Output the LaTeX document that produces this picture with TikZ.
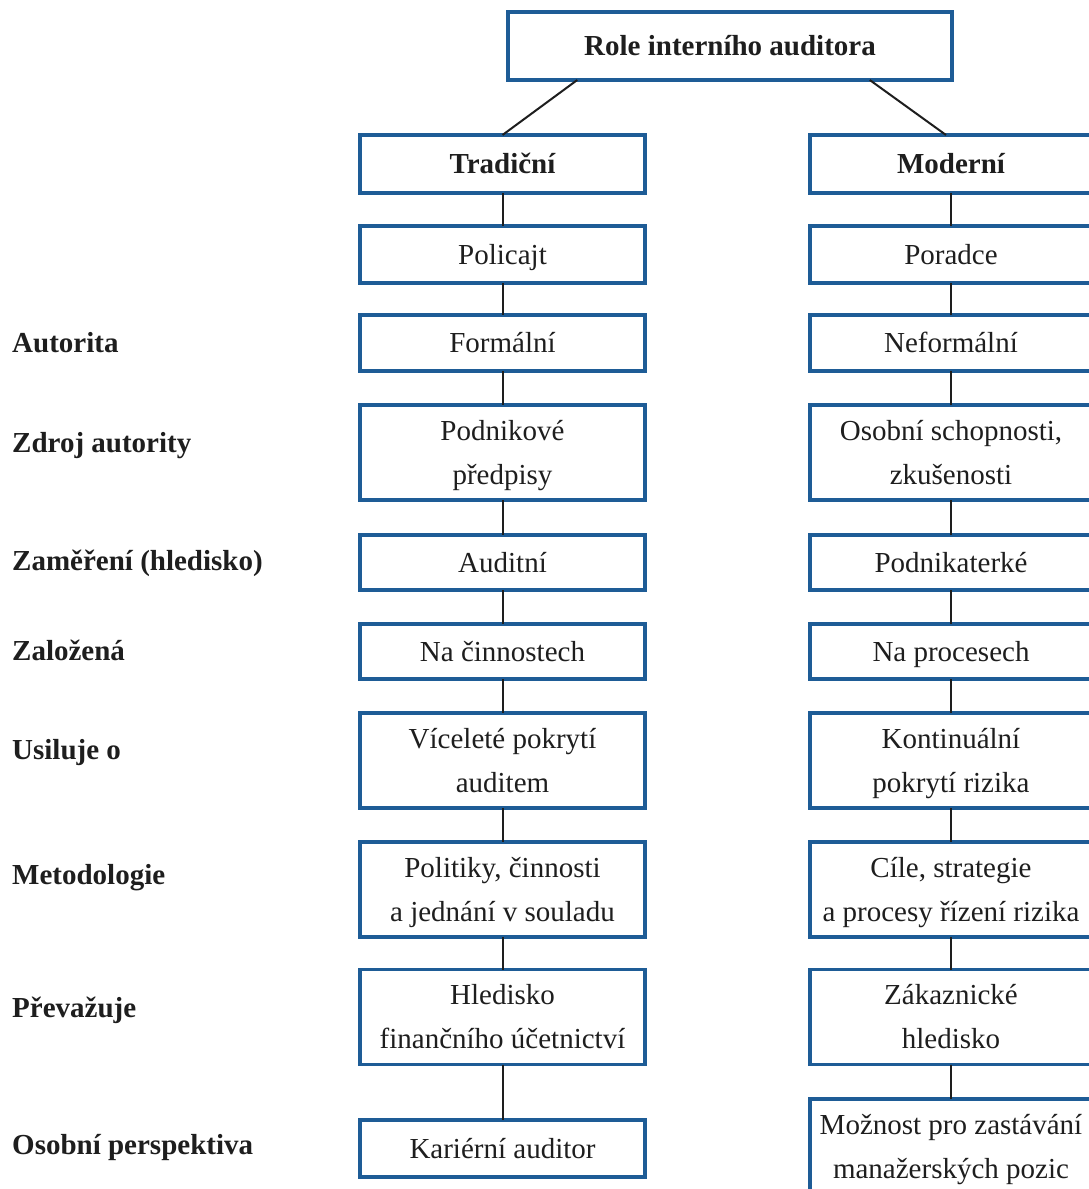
\documentclass[tikz,border=0pt]{standalone}
\usepackage{fontspec}
\setmainfont{Liberation Serif}
\usetikzlibrary{calc}
\definecolor{boxblue}{RGB}{30,92,150}
\definecolor{txt}{RGB}{30,30,30}
\definecolor{conn}{RGB}{30,30,30}
\newcommand\lst{\rule[-7pt]{0pt}{33pt}}
\begin{document}
\begin{tikzpicture}[x=1pt,y=-1pt,
  box/.style={draw=boxblue,line width=3.5pt,fill=white,rectangle,inner sep=0pt,
    minimum width=285pt,align=center,text=txt,
    font=\fontsize{29}{44}\selectfont},
  rbox/.style={box,minimum width=282pt},
  bbox/.style={font=\fontsize{29}{44}\selectfont\bfseries},
  lab/.style={anchor=base west,inner sep=0pt,text=txt,font=\fontsize{29}{44}\selectfont\bfseries},
  con/.style={draw=conn,line width=2pt}]
\useasboundingbox (0,0) rectangle (1089,1189);
\fill[white] (0,0) rectangle (1089,1189);
% top
\node[box,bbox,minimum width=444pt,minimum height=68pt] (top) at (730,46) {\lst Role interního auditora};
\node[box,bbox,minimum height=58pt] (trad) at (502.5,164) {\lst Tradiční};
\node[rbox,bbox,minimum height=58pt] (mod) at (951,164) {\lst Moderní};
% left column
\node[box,minimum height=57pt] (l1) at (502.5,254.5) {\lst Policajt};
\node[box,minimum height=56pt] (l2) at (502.5,343) {\lst Formální};
\node[box,minimum height=95pt] (l3) at (502.5,452.5) {\lst Podnikové\\\lst předpisy};
\node[box,minimum height=55pt] (l4) at (502.5,562.5) {\lst Auditní};
\node[box,minimum height=55pt] (l5) at (502.5,651.5) {\lst Na činnostech};
\node[box,minimum height=95pt] (l6) at (502.5,760.5) {\lst Víceleté pokrytí\\\lst auditem};
\node[box,minimum height=95pt] (l7) at (502.5,889.5) {\lst Politiky, činnosti\\\lst a jednání v souladu};
\node[box,minimum height=95pt] (l8) at (502.5,1017) {\lst Hledisko\\\lst finančního účetnictví};
\node[box,minimum height=57pt] (l9) at (502.5,1148.5) {\lst Kariérní auditor};
% right column
\node[rbox,minimum height=57pt] (r1) at (951,254.5) {\lst Poradce};
\node[rbox,minimum height=56pt] (r2) at (951,343) {\lst Neformální};
\node[rbox,minimum height=95pt] (r3) at (951,452.5) {\lst Osobní schopnosti,\\\lst zkušenosti};
\node[rbox,minimum height=55pt] (r4) at (951,562.5) {\lst Podnikaterké};
\node[rbox,minimum height=55pt] (r5) at (951,651.5) {\lst Na procesech};
\node[rbox,minimum height=95pt] (r6) at (951,760.5) {\lst Kontinuální\\\lst pokrytí rizika};
\node[rbox,minimum height=95pt] (r7) at (951,889.5) {\lst Cíle, strategie\\\lst a procesy řízení rizika};
\node[rbox,minimum height=95pt] (r8) at (951,1017) {\lst Zákaznické\\\lst hledisko};
\node[rbox,minimum height=95pt] (r9) at (951,1146.5) {\lst Možnost pro zastávání\\\lst manažerských pozic};
% labels
\node[lab] (a1) at (12,352) {Autorita};
\node[lab] (a2) at (12,452) {Zdroj autority};
\node[lab] (a3) at (12,570) {Zaměření (hledisko)};
\node[lab] (a4) at (12,660) {Založená};
\node[lab] (a5) at (12,759) {Usiluje o};
\node[lab] (a6) at (12,884) {Metodologie};
\node[lab] (a7) at (12,1017) {Převažuje};
\node[lab] (a8) at (12,1154) {Osobní perspektiva};
% connectors
\draw[con] ([xshift=71pt,yshift=1.75pt]top.south west) -- ([yshift=-1.75pt]trad.north);
\draw[con] ([xshift=-84pt,yshift=1.75pt]top.south east) -- ([xshift=-5pt,yshift=-1.75pt]mod.north);
\foreach \a/\b in {trad/l1,l1/l2,l2/l3,l3/l4,l4/l5,l5/l6,l6/l7,l7/l8,l8/l9,
                   mod/r1,r1/r2,r2/r3,r3/r4,r4/r5,r5/r6,r6/r7,r7/r8,r8/r9}
  \draw[con] ([yshift=1.75pt]\a.south) -- ([yshift=-1.75pt]\b.north);
\end{tikzpicture}
\end{document}
